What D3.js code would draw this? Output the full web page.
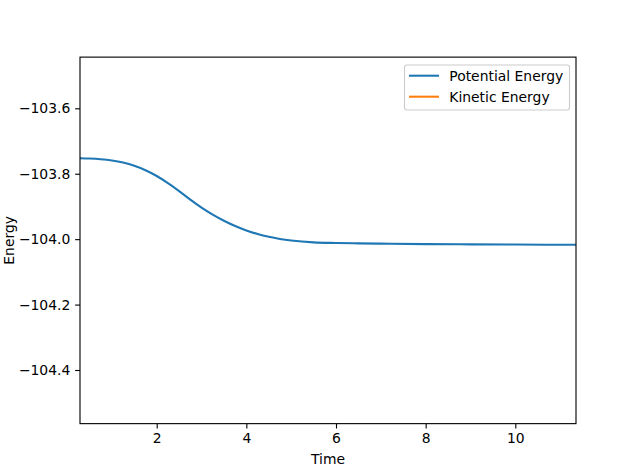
<!DOCTYPE html>
<html>
<head>
<meta charset="utf-8">
<script src="https://cdn.jsdelivr.net/npm/d3@7"></script>
<style>
  html, body { margin: 0; padding: 0; background: #fff; }
  svg { display: block; }
  text { font-family: "DejaVu Sans", sans-serif; fill: #000; }
</style>
</head>
<body>
<svg id="chart" width="640" height="476"></svg>
<script>
// ---- data ----
const time = [0.289, 0.5, 0.75, 1.0, 1.25, 1.5, 1.75, 2.0, 2.25, 2.5, 2.75, 3.0, 3.25, 3.5, 3.75,
              4.0, 4.25, 4.5, 4.75, 5.0, 5.5, 6.0, 6.5, 7.0, 8.0, 9.0, 10.0, 11.354];
const potentialEnergy = [-103.7527, -103.7535, -103.7556, -103.7595, -103.7659, -103.7757, -103.7893,
              -103.8069, -103.8285, -103.8530, -103.8791, -103.9036, -103.9250, -103.9437, -103.9598,
              -103.9733, -103.9843, -103.9929, -103.9994, -104.0042, -104.0099, -104.0117, -104.0128,
              -104.0137, -104.0152, -104.0160, -104.0166, -104.0172];
const kineticEnergy = [];   // not visible in the plotted range
const seriesNames = ["Potential Energy", "Kinetic Energy"];
const seriesColors = ["#1f77b4", "#ff7f0e"];
const xTicks = [2, 4, 6, 8, 10];
const yTicks = [-103.6, -103.8, -104.0, -104.2, -104.4];
const xDomain = [0.289, 11.354];
const yDomain = [-104.564, -103.4435];

// ---- layout ----
const W = 640, H = 476;
const L = 80, R = 576, T = 57.12, B = 423.64;
const svg = d3.select("#chart");
const fs = 13.9;

const x = d3.scaleLinear().domain(xDomain).range([L, R]);
const y = d3.scaleLinear().domain(yDomain).range([B, T]);

svg.append("defs").append("clipPath").attr("id", "clip")
  .append("rect").attr("x", L).attr("y", T).attr("width", R - L).attr("height", B - T);

const fmt = v => (v < 0 ? "\u2212" : "") + Math.abs(v).toFixed(1);

// lines
const line = d3.line().x(d => x(d[0])).y(d => y(d[1])).curve(d3.curveMonotoneX);
const series = [
  time.map((t, i) => [t, potentialEnergy[i]]),
  kineticEnergy.map((v, i) => [time[i], v])
];
series.forEach((s, i) => {
  if (s.length) {
    svg.append("path").attr("d", line(s)).attr("clip-path", "url(#clip)")
      .attr("fill", "none").attr("stroke", seriesColors[i]).attr("stroke-width", 2.08)
      .attr("stroke-linecap", "square").attr("stroke-linejoin", "round");
  }
});

// axes
const xAxis = d3.axisBottom(x).tickValues(xTicks).tickSize(4.86).tickPadding(4.2)
  .tickFormat(d3.format("d"));
const yAxis = d3.axisLeft(y).tickValues(yTicks).tickSize(4.86).tickPadding(4.86)
  .tickFormat(fmt);

const gx = svg.append("g").attr("transform", `translate(0,${B})`).call(xAxis);
const gy = svg.append("g").attr("transform", `translate(${L},0)`).call(yAxis);
[gx, gy].forEach(g => {
  g.select(".domain").remove();
  g.selectAll(".tick line").attr("stroke", "#000").attr("stroke-width", 1.11);
  g.selectAll(".tick text").attr("font-size", fs).attr("font-family", "DejaVu Sans").attr("fill", "#000");
});

// spines
svg.append("rect").attr("x", L).attr("y", T).attr("width", R - L).attr("height", B - T)
  .attr("fill", "none").attr("stroke", "#000").attr("stroke-width", 1.11);

// axis labels
svg.append("text").attr("x", (L + R) / 2).attr("y", 464.3).attr("text-anchor", "middle")
  .attr("font-size", fs).text("Time");
svg.append("text").attr("transform", `translate(13.5,${(T + B) / 2}) rotate(-90)`)
  .attr("text-anchor", "middle").attr("font-size", fs).text("Energy");

// legend
const lg = svg.append("g");
lg.append("rect").attr("x", 404.5).attr("y", 65).attr("width", 165).attr("height", 45)
  .attr("rx", 2.5).attr("fill", "#fff").attr("fill-opacity", 0.8)
  .attr("stroke", "#cccccc").attr("stroke-width", 1.11);
seriesNames.forEach((n, i) => {
  const cy = 75.7 + i * 21;
  lg.append("line").attr("x1", 409).attr("x2", 439).attr("y1", cy).attr("y2", cy)
    .attr("stroke", seriesColors[i]).attr("stroke-width", 2.08);
  lg.append("text").attr("x", 449.3).attr("y", cy + 5).attr("font-size", fs).text(n);
});
</script>
</body>
</html>
